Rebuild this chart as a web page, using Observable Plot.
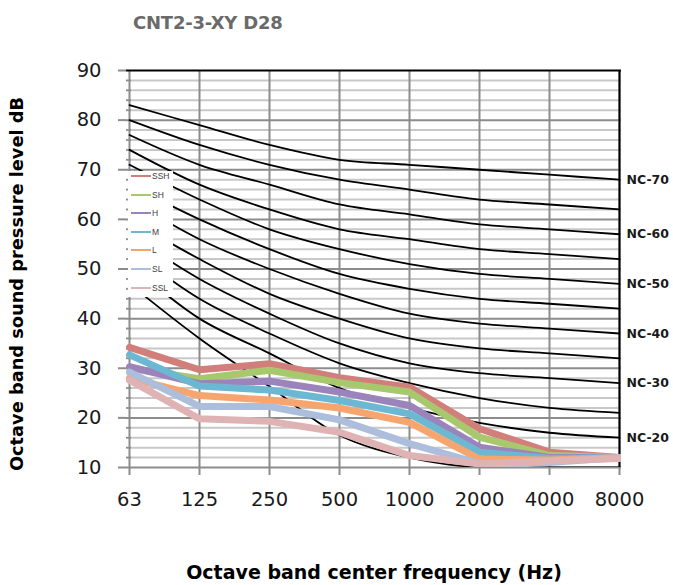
<!DOCTYPE html>
<html>
<head>
<meta charset="utf-8">
<script src="https://cdn.jsdelivr.net/npm/d3@7"></script>
<script src="https://cdn.jsdelivr.net/npm/@observablehq/plot@0.6"></script>
<style>
  body { margin: 0; background: #fff; }
  #wrap { position: relative; width: 673px; height: 585px; overflow: hidden; }
  #wrap svg.plot { position: absolute; left: 0; top: 0; }
  #title { position: absolute; left: 133px; top: 12px; font: bold 18px "DejaVu Sans", sans-serif; color: #6a6a6a; letter-spacing: -0.2px; white-space: nowrap; }
  #legend { position: absolute; left: 128px; top: 171px; width: 45px; height: 126px; background: #fff; }
  #legend .row { position: absolute; left: 3px; height: 10px; display: flex; align-items: center; }
  #legend .sw { width: 20px; height: 2px; }
  #legend .lab { font: 8.5px "Liberation Sans", sans-serif; color: #404040; margin-left: 1px; }
</style>
</head>
<body>
<div id="wrap">
  <div id="title">CNT2-3-XY D28</div>
</div>
<script>
// Octave band centre frequencies (Hz)
const freqs = ["63", "125", "250", "500", "1000", "2000", "4000", "8000"];

// Noise criterion reference curves, dB per octave band
const nc70 = [83, 79, 75, 72, 71, 70, 69, 68];
const nc65 = [80, 75, 71, 68, 66, 64, 63, 62];
const nc60 = [77, 71, 67, 63, 61, 59, 58, 57];
const nc55 = [74, 67, 62, 58, 56, 54, 53, 52];
const nc50 = [71, 64, 58, 54, 51, 49, 48, 47];
const nc45 = [67, 60, 54, 49, 46, 44, 43, 42];
const nc40 = [64, 56, 50, 45, 41, 39, 38, 37];
const nc35 = [60, 52, 45, 40, 36, 34, 33, 32];
const nc30 = [57, 48, 41, 35, 31, 29, 28, 27];
const nc25 = [54, 44, 37, 31, 27, 24, 22, 21];
const nc20 = [51, 40, 33, 26, 22, 19, 17, 16];
const nc15 = [47, 36, 26.3, 16.5, 12, 10, 10, 10];

const ncCurves = [nc70, nc65, nc60, nc55, nc50, nc45, nc40, nc35, nc30, nc25, nc20, nc15];
const ncNames = ["NC-70", "NC-65", "NC-60", "NC-55", "NC-50", "NC-45", "NC-40", "NC-35", "NC-30", "NC-25", "NC-20", "NC-15"];
const ncLabelled = ["NC-70", "NC-60", "NC-50", "NC-40", "NC-30", "NC-20"];

// Measured fan speed spectra, dB
const seriesNames = ["SSH", "SH", "H", "M", "L", "SL", "SSL"];
const ssh = [34.2, 29.7, 30.9, 28.1, 26.2, 17.8, 13.1, 12.0];
const sh  = [30.0, 27.9, 29.6, 27.1, 25.2, 16.1, 12.4, 12.0];
const h   = [30.3, 26.9, 27.4, 25.2, 22.5, 14.1, 12.0, 12.0];
const m   = [32.7, 26.4, 25.6, 23.5, 20.8, 13.1, 11.8, 12.0];
const l   = [28.0, 24.5, 23.6, 22.0, 19.1, 11.7, 11.5, 12.0];
const sl  = [29.2, 22.3, 22.3, 19.6, 14.8, 10.8, 11.0, 12.0];
const ssl = [27.6, 19.8, 19.3, 17.1, 12.4, 10.7, 11.3, 11.8];
const seriesValues = [ssh, sh, h, m, l, sl, ssl];
const seriesColors = ["#d27f7c", "#a8c86e", "#9b84bb", "#6cb8d2", "#f6a56f", "#acbedc", "#dfb3b3"];

// Axis ticks
const majorTicks = [10, 20, 30, 40, 50, 60, 70, 80, 90];
const minorTicks = d3.range(12, 90, 2).filter(v => v % 10 !== 0);

const yTitle = "Octave band sound pressure level dB";
const xTitle = "Octave band center frequency (Hz)";

// Long-form tables for the line marks
const ncRows = ncCurves.flatMap((vals, i) => vals.map((v, j) => ({curve: ncNames[i], freq: freqs[j], level: v})));
const seriesRows = seriesValues.flatMap((vals, i) => vals.map((v, j) => ({name: seriesNames[i], freq: freqs[j], level: v})));
const ncEnds = ncNames.map((n, i) => ({name: n, freq: freqs[freqs.length - 1], level: ncCurves[i][freqs.length - 1]}))
  .filter(d => ncLabelled.includes(d.name));

const gridGray = "#8c8c8c";
const tickFont = "'DejaVu Sans', sans-serif";

const chart = Plot.plot({
  width: 673,
  height: 585,
  marginLeft: 126,
  marginRight: 52,
  marginTop: 70,
  marginBottom: 118,
  style: {fontFamily: tickFont, background: "#fff"},
  x: {type: "point", domain: freqs, padding: 0, axis: null},
  y: {domain: [10, 90], axis: null},
  color: {domain: seriesNames, range: seriesColors},
  marks: [
    // light minor gridlines every 2 dB, darker ones every 10 dB
    Plot.ruleY(minorTicks, {stroke: "#c8c8c8", strokeWidth: 2}),
    Plot.ruleY(majorTicks.filter(v => v < 90), {stroke: gridGray, strokeWidth: 2}),
    Plot.ruleX(freqs, {stroke: gridGray, strokeWidth: 2, insetBottom: -8}),
    // plot border on the top and right
    Plot.ruleY([90], {stroke: "#000", strokeWidth: 2}),
    Plot.ruleX([freqs[freqs.length - 1]], {stroke: "#000", strokeWidth: 2}),
    // y axis ticks and labels
    Plot.axisY({ticks: majorTicks, tickSize: 8, tickPadding: 17, stroke: gridGray, strokeWidth: 2, fill: "#1a1a1a", fontSize: 19.5, fontFamily: tickFont, label: null}),
    Plot.axisY({ticks: minorTicks, tickSize: -5, tickFormat: () => "", stroke: gridGray, strokeWidth: 1.5, label: null}),
    // x axis labels
    Plot.axisX({tickSize: 0, tickPadding: 25, fill: "#1a1a1a", fontSize: 19.5, fontFamily: tickFont, label: null}),
    // NC curves
    Plot.line(ncRows, {x: "freq", y: "level", z: "curve", curve: "catmull-rom", stroke: "#000", strokeWidth: 1.8, clip: true}),
    Plot.text(ncEnds, {x: "freq", y: "level", text: "name", textAnchor: "start", dx: 7, fontSize: 12.5, fontWeight: "bold", fill: "#1a1a1a", fontFamily: tickFont}),
    // measured spectra
    Plot.line(seriesRows, {x: "freq", y: "level", z: "name", stroke: "name", strokeWidth: 7, strokeLinejoin: "miter", clip: true}),
    // axis titles
    Plot.text([yTitle], {frameAnchor: "left", textAnchor: "middle", rotate: -90, dx: -109, dy: 15, fontSize: 17.8, fontWeight: "bold", fill: "#000", fontFamily: tickFont}),
    Plot.text([xTitle], {frameAnchor: "bottom", textAnchor: "middle", dy: 111, fontSize: 19, fontWeight: "bold", fill: "#000", fontFamily: tickFont})
  ]
});
chart.classList.add("plot");
const wrap = document.getElementById("wrap");
wrap.insertBefore(chart, wrap.firstChild);

// Legend box in the upper left of the plotting area
const legend = d3.select(wrap).append("div").attr("id", "legend");
seriesNames.forEach((name, i) => {
  const row = legend.append("div").attr("class", "row").style("top", `${i * 18.6}px`);
  row.append("div").attr("class", "sw").style("background", seriesColors[i]);
  row.append("div").attr("class", "lab").text(name);
});
</script>
</body>
</html>
